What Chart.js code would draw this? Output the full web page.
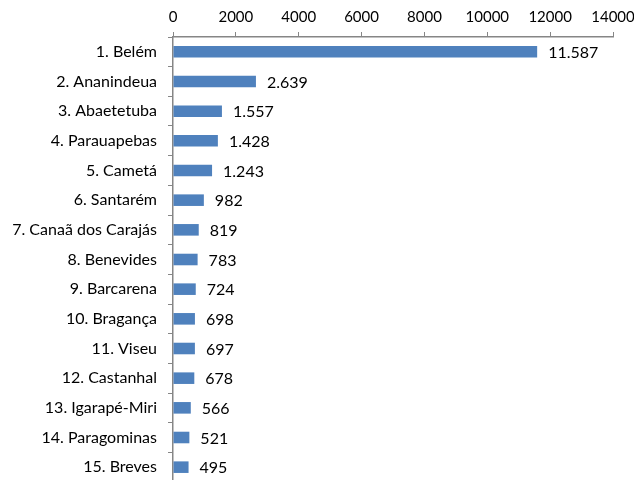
<!DOCTYPE html>
<html>
<head>
<meta charset="utf-8">
<script src="https://cdn.jsdelivr.net/npm/chart.js@4/dist/chart.umd.min.js"></script>
<style>
html,body{margin:0;padding:0;background:#fff;overflow:hidden;}
</style>
</head>
<body>
<canvas id="c" width="634" height="482" style="display:block;width:634px;height:482px;"></canvas>
<script>
const categories = ["1. Belém","2. Ananindeua","3. Abaetetuba","4. Parauapebas","5. Cametá","6. Santarém","7. Canaã dos Carajás","8. Benevides","9. Barcarena","10. Bragança","11. Viseu","12. Castanhal","13. Igarapé-Miri","14. Paragominas","15. Breves"];
const values = [11587,2639,1557,1428,1243,982,819,783,724,698,697,678,566,521,495];
const xTicks = [0,2000,4000,6000,8000,10000,12000,14000];

function fmt(v){
  return String(v).replace(/\B(?=(\d{3})+(?!\d))/g, ".");
}

const FONT = "Lato";
const labelPlugin = {
  id: 'valueLabels',
  afterDatasetsDraw(chart){
    const ctx = chart.ctx;
    const meta = chart.getDatasetMeta(0);
    ctx.save();
    ctx.font = "16px " + FONT;
    ctx.fillStyle = "#000";
    ctx.textAlign = "left";
    ctx.textBaseline = "middle";
    meta.data.forEach((el, i) => {
      ctx.fillText(fmt(values[i]), el.x + 11, el.y + 1);
    });
    ctx.restore();
  }
};

new Chart(document.getElementById('c'), {
  type: 'bar',
  data: {
    labels: categories,
    datasets: [{
      data: values,
      backgroundColor: '#4F81BD',
      borderWidth: 0,
      barPercentage: 0.39,
      categoryPercentage: 1
    }]
  },
  options: {
    indexAxis: 'y',
    responsive: false,
    animation: false,
    layout: { padding: { left: 0, right: 21, top: 0, bottom: 0 } },
    plugins: { legend: { display: false }, tooltip: { enabled: false } },
    scales: {
      x: {
        position: 'top',
        min: 0, max: 14000,
        afterBuildTicks(scale){ scale.ticks = xTicks.map(v => ({value: v})); },
        afterFit(scale){ scale.height = 37; scale.paddingRight = 0; scale.paddingLeft = 0; },
        ticks: { color: '#000', font: { family: FONT, size: 15 }, padding: 6, maxRotation: 0, autoSkip: false,
                 callback: v => String(v) },
        grid: { drawOnChartArea: false, drawTicks: true, tickLength: 5, color: '#868686', lineWidth: 1 },
        border: { display: true, color: '#868686', width: 1.5 }
      },
      y: {
        afterFit(scale){ scale.width = 173; scale.paddingTop = 0; scale.paddingBottom = 0; },
        ticks: { color: '#000', font: { family: FONT, size: 16 }, padding: 11, autoSkip: false },
        grid: { drawOnChartArea: false, drawTicks: true, tickLength: 5, color: '#868686', lineWidth: 1, offset: true },
        border: { display: true, color: '#868686', width: 1.5 }
      }
    }
  },
  plugins: [labelPlugin]
});
</script>
</body>
</html>
